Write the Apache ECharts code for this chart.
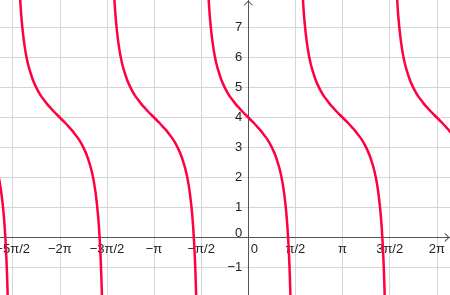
<!DOCTYPE html>
<html>
<head>
<meta charset="utf-8">
<script src="https://cdn.jsdelivr.net/npm/echarts@6/dist/echarts.min.js"></script>
<style>
html,body{margin:0;padding:0;background:#fff;}
#chart{width:450px;height:295px;}
</style>
</head>
<body>
<div id="chart"></div>
<script>
// Tick positions and labels
const xTickValues = [-7.854, -6.283, -4.712, -3.142, -1.571, 0, 1.571, 3.142, 4.712, 6.283];
const xTickLabels = ['−5π/2', '−2π', '−3π/2', '−π', '−π/2', '0', 'π/2', 'π', '3π/2', '2π'];
const yTickValues = [-1, 0, 1, 2, 3, 4, 5, 6, 7];
const yTickLabels = ['−1', '0', '1', '2', '3', '4', '5', '6', '7'];

// Each branch of the curve is the same shape, centred on these x positions
const branchCenters = [-9.425, -6.283, -3.142, 0, 3.142, 6.283];
// Offsets from a branch centre and the y values read at them
const curveOffsets = [-1.42, -1.4, -1.375, -1.35, -1.325, -1.3, -1.275, -1.25, -1.225, -1.2, -1.15, -1.1, -1.05, -1.0,
  -0.9, -0.8, -0.7, -0.6, -0.5, -0.4, -0.3, -0.2, -0.1, 0, 0.1, 0.2, 0.3, 0.4, 0.5, 0.6, 0.7, 0.8, 0.9,
  1.0, 1.05, 1.1, 1.15, 1.2, 1.225, 1.25, 1.275, 1.3, 1.325, 1.35, 1.375, 1.4, 1.42];
const curveValues = [10.58, 9.80, 9.04, 8.46, 7.99, 7.60, 7.28, 7.01, 6.78, 6.57, 6.23, 5.96, 5.74, 5.56,
  5.26, 5.03, 4.84, 4.68, 4.55, 4.42, 4.31, 4.20, 4.10, 4.00, 3.90, 3.80, 3.69, 3.58, 3.45, 3.32, 3.16, 2.97, 2.74,
  2.44, 2.26, 2.04, 1.77, 1.43, 1.22, 0.99, 0.72, 0.40, 0.01, -0.46, -1.04, -1.80, -2.58];

const xMin = -8.277, xMax = 6.723, yMin = -1.917, yMax = 7.917;
const W = 450, H = 295;
// shift each axis onto the other axis' zero
const yAxisOffset = -W * (0 - xMin) / (xMax - xMin);
const xAxisOffset = -H * (0 - yMin) / (yMax - yMin);

function labelFor(values, labels, v) {
  for (let i = 0; i < values.length; i++) {
    if (Math.abs(values[i] - v) < 1e-6) return labels[i];
  }
  return '';
}

const chevron = 'path://M0,0 L5,5 L4.2,5.8 L0,1.6 L-4.2,5.8 L-5,5 Z';
const FONT = 'Liberation Sans, Arial, sans-serif';

const series = branchCenters.map(c => ({
  type: 'line',
  data: curveOffsets.map((o, i) => [c + o, curveValues[i]]),
  showSymbol: false,
  smooth: 0.3,
  clip: true,
  lineStyle: { color: '#ff0040', width: 2.5 },
  silent: true,
  animation: false
}));

const chart = echarts.init(document.getElementById('chart'), null, { renderer: 'canvas' });
chart.setOption({
  backgroundColor: '#ffffff',
  animation: false,
  grid: { left: 0, right: 0, top: 0, bottom: 0, containLabel: false, outerBoundsMode: 'none' },
  xAxis: {
    type: 'value',
    position: 'bottom',
    offset: xAxisOffset,
    min: xMin, max: xMax,
    axisLine: { show: true, onZero: false, lineStyle: { color: '#555555', width: 1 },
      symbol: ['none', chevron], symbolSize: [9, 6], symbolOffset: [0, -3] },
    axisTick: { show: false, customValues: xTickValues },
    splitLine: { show: true, lineStyle: { color: '#d6d6d6', width: 1 } },
    axisLabel: {
      customValues: xTickValues,
      margin: 5,
      color: '#222',
      fontFamily: FONT,
      fontSize: 13,
      hideOverlap: false,
      showMinLabel: true, showMaxLabel: true,
      formatter: v => {
        const t = labelFor(xTickValues, xTickLabels, v);
        return Math.abs(v) < 1e-9 ? '{z|' + t + '}' : t;
      },
      rich: { z: { padding: [0, 0, 0, 12], fontSize: 13, fontFamily: FONT, color: '#222' } }
    }
  },
  yAxis: {
    type: 'value',
    position: 'left',
    offset: yAxisOffset,
    min: yMin, max: yMax,
    axisLine: { show: true, onZero: false, lineStyle: { color: '#555555', width: 1 },
      symbol: ['none', chevron], symbolSize: [9, 6], symbolOffset: [0, -3] },
    axisTick: { show: false, customValues: yTickValues },
    splitLine: { show: true, lineStyle: { color: '#d6d6d6', width: 1 } },
    axisLabel: {
      customValues: yTickValues,
      margin: 6,
      color: '#222',
      fontFamily: FONT,
      fontSize: 13,
      hideOverlap: false,
      formatter: v => {
        const t = labelFor(yTickValues, yTickLabels, v);
        return Math.abs(v) < 1e-9 ? '{z|' + t + '}' : t;
      },
      rich: { z: { padding: [0, 0, 9, 0], fontSize: 13, fontFamily: FONT, color: '#222' } }
    }
  },
  series: series
});
</script>
</body>
</html>
